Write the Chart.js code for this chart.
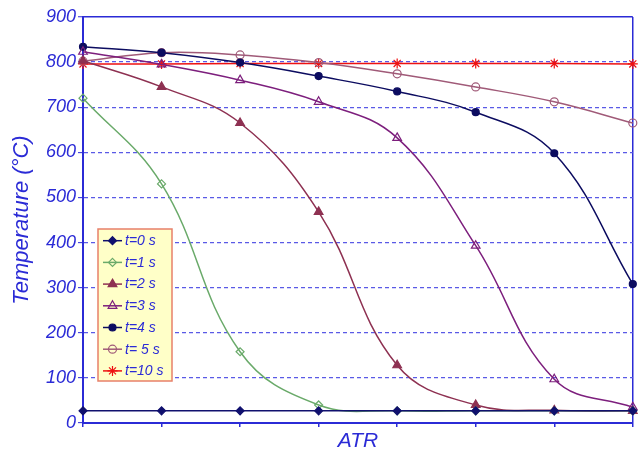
<!DOCTYPE html>
<html>
<head>
<meta charset="utf-8">
<script src="https://cdn.jsdelivr.net/npm/chart.js@4"></script>
<style>
html,body{margin:0;padding:0;background:#fff;}
#wrap{width:639px;height:457px;position:relative;}
</style>
</head>
<body>
<div id="wrap"><canvas id="c" width="639" height="457"></canvas></div>
<script>
const categories = ['1','2','3','4','5','6','7','8'];
const seriesNames = ['t=0 s','t=1 s','t=2 s','t=3 s','t=4 s','t= 5 s','t=10 s'];
const t0  = [27, 27, 27, 27, 27, 27, 27, 27];
const t1  = [720, 530, 158, 40, 27, 27, 27, 27];
const t2  = [803, 745, 665, 468, 128, 40, 28, 27];
const t3  = [823, 795, 760, 712, 632, 393, 97, 35];
const t4  = [834, 821, 799, 769, 735, 689, 598, 308];
const t5  = [802, 821, 816, 799, 774, 745, 712, 665];
const t10 = [796, 796, 797, 797, 797, 797, 797, 796];
const yTicks = [0,100,200,300,400,500,600,700,800,900];

const BLUE = '#2b2bd6';
const styles = [
  {color:'#10106e', fill:'#10106e', point:'rectRot', r:4},
  {color:'#6aaa6a', fill:'rgba(255,255,255,0)', point:'rectRot', r:4},
  {color:'#8e3152', fill:'#8e3152', point:'triangle', r:5},
  {color:'#7d1f7d', fill:'rgba(255,255,255,0)', point:'triangle', r:5},
  {color:'#0c0c60', fill:'#0c0c60', point:'circle', r:3.5},
  {color:'#a05a78', fill:'rgba(255,255,255,0)', point:'circle', r:4},
  {color:'#ee1111', fill:'#ee1111', point:'star', r:5}
];
const seriesData = [t0,t1,t2,t3,t4,t5,t10];

const datasets = seriesData.map((d,i)=>({
  label: seriesNames[i],
  data: d,
  borderColor: styles[i].color,
  backgroundColor: styles[i].fill,
  pointBorderColor: styles[i].color,
  pointBackgroundColor: styles[i].fill,
  pointStyle: styles[i].point,
  pointRadius: styles[i].r,
  pointBorderWidth: 1.2,
  borderWidth: 1.5,
  tension: 0.4,
  fill: false
}));

function drawMarker(ctx, style, r, x, y, stroke, fill){
  ctx.save();
  ctx.strokeStyle = stroke; ctx.fillStyle = fill; ctx.lineWidth = 1.2;
  ctx.beginPath();
  if(style==='circle'){ ctx.arc(x,y,r,0,Math.PI*2); ctx.fill(); ctx.stroke(); }
  else if(style==='rectRot'){ ctx.moveTo(x,y-r);ctx.lineTo(x+r,y);ctx.lineTo(x,y+r);ctx.lineTo(x-r,y);ctx.closePath();ctx.fill();ctx.stroke(); }
  else if(style==='triangle'){ ctx.moveTo(x,y-r);ctx.lineTo(x+r*0.87,y+r*0.5);ctx.lineTo(x-r*0.87,y+r*0.5);ctx.closePath();ctx.fill();ctx.stroke(); }
  else if(style==='star'){ const a=r*0.7; ctx.moveTo(x-a,y-a);ctx.lineTo(x+a,y+a);ctx.moveTo(x+a,y-a);ctx.lineTo(x-a,y+a);ctx.moveTo(x,y-r);ctx.lineTo(x,y+r);ctx.moveTo(x-r,y);ctx.lineTo(x+r,y);ctx.stroke(); }
  ctx.restore();
}

const legendPlugin = {
  id:'boxLegend',
  afterDraw(chart){
    const ctx = chart.ctx;
    ctx.save();
    ctx.fillStyle = '#ffffc8';
    ctx.strokeStyle = '#e8806a';
    ctx.lineWidth = 1.5;
    ctx.fillRect(98,229,74,152);
    ctx.strokeRect(98,229,74,152);
    chart.data.datasets.forEach((ds,i)=>{
      const y = 240.7 + i*21.7;
      ctx.strokeStyle = ds.borderColor; ctx.lineWidth = 1.5;
      ctx.beginPath(); ctx.moveTo(103,y); ctx.lineTo(122,y); ctx.stroke();
      drawMarker(ctx, ds.pointStyle, ds.pointRadius, 112.5, y, ds.borderColor, ds.pointBackgroundColor);
      ctx.fillStyle = BLUE;
      ctx.font = 'italic 14px "Liberation Sans", Arial, sans-serif';
      ctx.textBaseline = 'middle'; ctx.textAlign = 'left';
      ctx.fillText(ds.label, 125, y+0.5);
    });
    ctx.restore();
  }
};

new Chart(document.getElementById('c'), {
  type:'line',
  data:{labels:categories, datasets},
  plugins:[legendPlugin],
  options:{
    responsive:false,
    animation:false,
    layout:{padding:{top:17,right:4,left:0,bottom:0}},
    plugins:{legend:{display:false}, tooltip:{enabled:false}},
    scales:{
      x:{
        type:'category',
        offset:false,
        ticks:{display:false},
        grid:{
          color:(c)=> (c.index===categories.length-1 ? BLUE : 'rgba(0,0,0,0)'),
          lineWidth:1.5,
          drawTicks:true,
          tickLength:4,
          tickColor:BLUE
        },
        border:{color:BLUE, width:2},
        title:{display:true, text:'ATR', color:BLUE,
          font:{family:'"Liberation Sans", Arial, sans-serif', size:21, style:'italic'},
          padding:{top:0,bottom:3}},
        afterFit(s){ s.height = 34; }
      },
      y:{
        min:0, max:900,
        afterBuildTicks(s){ s.ticks = yTicks.map(v=>({value:v})); },
        ticks:{color:BLUE, padding:2,
          font:{family:'"Liberation Sans", Arial, sans-serif', size:18, style:'italic'}},
        grid:{
          color:(c)=> (c.tick && c.tick.value===0 ? 'rgba(0,0,0,0)' : (c.tick && c.tick.value===900 ? BLUE : '#5a5ae6')),
          lineWidth:(c)=> (c.tick && c.tick.value===900 ? 1.5 : 1.3),
          drawTicks:true, tickLength:5, tickColor:BLUE, tickWidth:1
        },
        border:{color:BLUE, width:2, dash:(c)=> (c.tick && c.tick.value===900 ? [] : [4,3])},
        title:{display:true, text:'Temperature (°C)', color:BLUE,
          font:{family:'"Liberation Sans", Arial, sans-serif', size:22, style:'italic'},
          padding:{top:9,bottom:0}},
        afterFit(s){ s.width = 83; }
      }
    }
  }
});
</script>
</body>
</html>
